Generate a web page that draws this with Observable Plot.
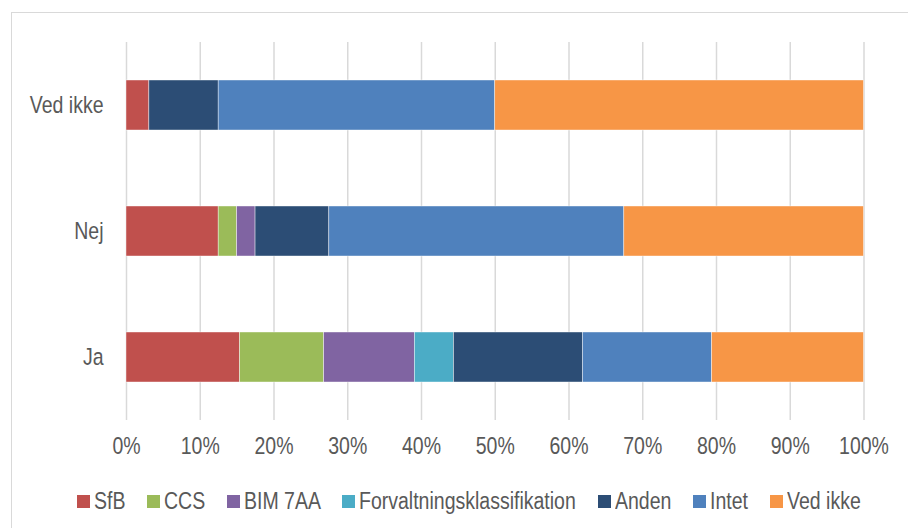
<!DOCTYPE html>
<html>
<head>
<meta charset="utf-8">
<script src="https://cdn.jsdelivr.net/npm/d3@7"></script>
<script src="https://cdn.jsdelivr.net/npm/@observablehq/plot@0.6"></script>
<style>
  html, body { margin: 0; padding: 0; background: #fff; overflow: hidden; }
  #wrap { position: relative; width: 908px; height: 528px; overflow: hidden; }
  #frame { position: absolute; left: 11px; top: 12px; width: 1000px; height: 1000px; border: 1.5px solid #d9d9d9; box-sizing: border-box; }
  #chart { position: absolute; left: 0; top: 0; }
  #legend { position: absolute; left: 77px; top: 488px; display: flex; align-items: center;
    font-family: "Liberation Sans", Arial, sans-serif; font-size: 23.5px; color: #595959; white-space: nowrap; }
  .item { display: flex; align-items: center; margin-right: 21.8px; }
  .sw { width: 13px; height: 13px; margin-right: 4px; flex: none; }
  .lbl { display: inline-block; transform: scaleX(0.83); transform-origin: left center; }
</style>
</head>
<body>
<div id="wrap">
  <div id="frame"></div>
  <div id="chart"></div>
  <div id="legend"></div>
</div>
<script>
const categories = ["Ved ikke", "Nej", "Ja"];
const seriesNames = ["SfB", "CCS", "BIM 7AA", "Forvaltningsklassifikation", "Anden", "Intet", "Ved ikke"];
const seriesColors = ["#C0504D", "#9BBB59", "#8064A2", "#4BACC6", "#2C4D75", "#4F81BD", "#F79646"];
// percentages per category, in order of categories (Ved ikke, Nej, Ja)
const sfb = [3.1, 12.5, 15.4];
const ccs = [0, 2.5, 11.4];
const bim7aa = [0, 2.5, 12.3];
const forvaltning = [0, 0, 5.3];
const anden = [9.4, 10, 17.5];
const intet = [37.5, 40, 17.5];
const vedIkke = [50, 32.5, 20.6];
const xTicks = [0, 10, 20, 30, 40, 50, 60, 70, 80, 90, 100];

const seriesValues = [sfb, ccs, bim7aa, forvaltning, anden, intet, vedIkke];
const data = [];
seriesNames.forEach((s, si) => {
  categories.forEach((c, ci) => {
    data.push({ category: c, series: s, value: seriesValues[si][ci] });
  });
});

const font = '"Liberation Sans", Arial, sans-serif';
const SX = 0.83;

const chart = Plot.plot({
  width: 908,
  height: 528,
  marginLeft: 126,
  marginRight: 44.5,
  marginTop: 42,
  marginBottom: 108,
  style: { fontFamily: font, fontSize: "23.5px", color: "#595959", background: "transparent", overflow: "visible" },
  x: { domain: [0, 100], ticks: xTicks, tickFormat: d => d + "%", tickSize: 0, tickPadding: 17, label: null },
  y: { domain: categories, paddingInner: 0.6, paddingOuter: 0.3, tickSize: 0, tickPadding: 23, label: null },
  color: { domain: seriesNames, range: seriesColors },
  marks: [
    Plot.ruleX(xTicks, { stroke: "#d9d9d9", strokeWidth: 1.5 }),
    Plot.barX(data, Plot.stackX({
      y: "category",
      x: "value",
      fill: "series",
      order: seriesNames,
      stroke: "white",
      strokeWidth: 0.6,
      strokeOpacity: 0.7
    }))
  ]
});
// condense axis label glyphs horizontally around their anchor points
chart.querySelectorAll('g[aria-label$="tick label"] text').forEach(t => {
  const tr = t.getAttribute("transform") || "";
  t.setAttribute("transform", tr + ` scale(${SX},1)`);
});
document.getElementById("chart").appendChild(chart);

const legend = document.getElementById("legend");
seriesNames.forEach((s, i) => {
  const item = document.createElement("div");
  item.className = "item";
  const sw = document.createElement("div");
  sw.className = "sw";
  sw.style.background = seriesColors[i];
  const t = document.createElement("span");
  t.className = "lbl";
  t.textContent = s;
  item.appendChild(sw);
  item.appendChild(t);
  legend.appendChild(item);
});
legend.querySelectorAll(".lbl").forEach(t => {
  const w = t.getBoundingClientRect().width; // already scaled width
  const full = t.offsetWidth;
  t.style.marginRight = (w - full) + "px";
});
</script>
</body>
</html>
